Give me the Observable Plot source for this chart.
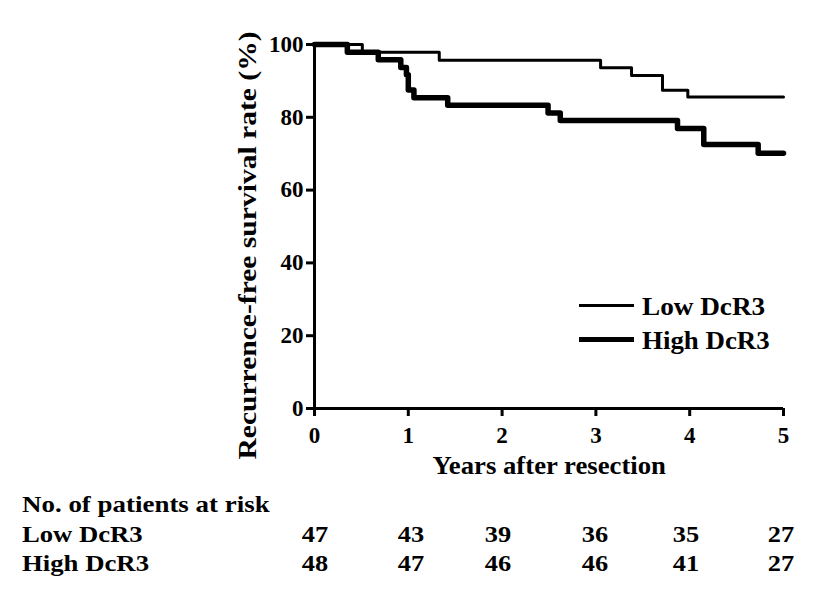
<!DOCTYPE html>
<html><head><meta charset="utf-8">
<script src="https://cdn.jsdelivr.net/npm/d3@7"></script>
<script src="https://cdn.jsdelivr.net/npm/@observablehq/plot@0.6"></script>
<style>
body{margin:0;background:#fff;font-family:"Liberation Serif","Times New Roman",serif;font-weight:bold;color:#000;}
#wrap{position:relative;width:827px;height:597px;overflow:hidden;}
.t{position:absolute;white-space:nowrap;line-height:1;}
.lg{position:absolute;background:#000;}
</style></head>
<body><div id="wrap"></div>
<script>
const lowTimes = [0, 0.51, 1.33, 3.05, 3.38, 3.71, 3.98, 5];
const lowSurv  = [100, 97.9, 95.7, 93.6, 91.5, 87.4, 85.6, 85.6];
const highTimes = [0, 0.35, 0.68, 0.92, 0.98, 1.0, 1.06, 1.42, 2.49, 2.62, 3.87, 4.15, 4.73, 5];
const highSurv  = [100, 97.9, 95.8, 93.7, 91.7, 87.5, 85.4, 83.3, 81.2, 79.1, 76.9, 72.5, 70.1, 70.1];
const xTicks = [0, 1, 2, 3, 4, 5];
const yTicks = [0, 20, 40, 60, 80, 100];
const groups = ["Low DcR3", "High DcR3"];
const riskTitle = "No. of patients at risk";
const riskLow  = [47, 43, 39, 36, 35, 27];
const riskHigh = [48, 47, 46, 46, 41, 27];
const xLabel = "Years after resection";
const yLabel = "Recurrence-free survival rate (%)";

const low = lowTimes.map((t, i) => ({t, s: lowSurv[i]}));
const high = highTimes.map((t, i) => ({t, s: highSurv[i]}));

const plot = Plot.plot({
  width: 827, height: 470,
  marginLeft: 314, marginRight: 44, marginTop: 44, marginBottom: 62,
  style: {fontFamily: "'Liberation Serif','Times New Roman',serif", fontWeight: "bold", fontSize: "23px", color: "#000", background: "#fff"},
  x: {domain: [0, 5]},
  y: {domain: [0, 100]},
  marks: [
    Plot.axisX({ticks: xTicks, tickFormat: d => d, tickSize: 8, strokeWidth: 3, tickPadding: 10, fontSize: 23, label: null}),
    Plot.axisY({ticks: yTicks, tickFormat: d => d, tickSize: 8, strokeWidth: 3, tickPadding: 3, fontSize: 23, label: null}),
    Plot.ruleX([0], {strokeWidth: 3}),
    Plot.ruleY([0], {strokeWidth: 3}),
    Plot.line(low, {x: "t", y: "s", curve: "step-after", stroke: "#000", strokeWidth: 3}),
    Plot.line(high, {x: "t", y: "s", curve: "step-after", stroke: "#000", strokeWidth: 5.5})
  ]
});
plot.style.position = "absolute"; plot.style.left = "0px"; plot.style.top = "0px";
const wrap = document.getElementById("wrap");
wrap.appendChild(plot);

// HTML text positioned by baseline; width either a stretch factor (<3) or a target width in px
function addText(txt, x, baseline, fs, stretch, align, targetW) {
  const d = document.createElement("div");
  d.className = "t";
  d.textContent = txt;
  d.style.fontSize = fs + "px";
  d.style.top = (baseline - 0.8375 * fs) + "px";
  wrap.appendChild(d);
  const w = d.offsetWidth;
  const s = targetW ? targetW / w : stretch;
  const left = align === "center" ? x - w / 2 : x;
  d.style.left = left + "px";
  d.style.transformOrigin = align === "center" ? "50% 50%" : "0 50%";
  d.style.transform = "scaleX(" + s + ")";
  return d;
}
function addLine(x, y, w, h) {
  const d = document.createElement("div");
  d.className = "lg"; d.style.left = x + "px"; d.style.top = (y - h / 2) + "px";
  d.style.width = w + "px"; d.style.height = h + "px";
  wrap.appendChild(d);
}
// axis titles
addText(xLabel, 548.5, 474, 25, 1, "center", 233);
(function () {
  const fs = 25;
  const d = document.createElement("div");
  d.className = "t";
  d.textContent = yLabel;
  d.style.fontSize = fs + "px";
  wrap.appendChild(d);
  const w = d.offsetWidth, h = d.offsetHeight;
  const cx = 247, cy = 245;
  d.style.left = (cx - w / 2) + "px";
  d.style.top = (cy - h / 2) + "px";
  d.style.transformOrigin = "50% 50%";
  d.style.transform = "rotate(-90deg) scaleX(" + (428 / w) + ")";
})();
// legend
addLine(579, 305, 55, 3);   addText(groups[0], 642, 315, 25, 1, "left", 123);
addLine(579, 339, 55, 5);   addText(groups[1], 642, 349, 25, 1, "left", 128);
// risk table
addText(riskTitle, 22, 512, 24, 1, "left", 248);
addText(groups[0], 22, 542, 24, 1, "left", 121);
addText(groups[1], 22, 571, 24, 1, "left", 127);
const colX = [315, 411, 498, 595, 686, 781];
riskLow.forEach((v, i) => addText(String(v), colX[i], 542, 24, 1.1, "center"));
riskHigh.forEach((v, i) => addText(String(v), colX[i], 571, 24, 1.1, "center"));
</script></body></html>
